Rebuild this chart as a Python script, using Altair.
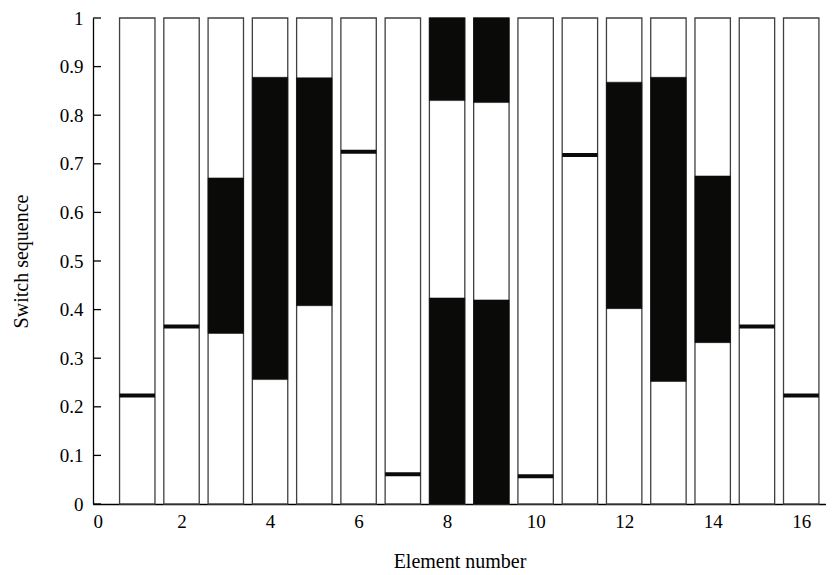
import altair as alt
import pandas as pd

# ---- data ----
elements = list(range(1, 17))

block_element = [3, 4, 5, 8, 8, 9, 9, 12, 13, 14]
block_low = [0.351, 0.256, 0.408, 0.0, 0.830, 0.0, 0.826, 0.402, 0.252, 0.332]
block_high = [0.671, 0.878, 0.877, 0.424, 1.0, 0.420, 1.0, 0.868, 0.878, 0.675]

line_element = [1, 2, 6, 7, 10, 11, 15, 16]
line_value = [0.223, 0.365, 0.725, 0.061, 0.057, 0.718, 0.365, 0.223]

x_ticks = [0, 2, 4, 6, 8, 10, 12, 14, 16]
y_ticks = [0, 0.1, 0.2, 0.3, 0.4, 0.5, 0.6, 0.7, 0.8, 0.9, 1]

FONT = "Liberation Serif"
HALF = 0.4

bars_df = pd.DataFrame({"element": elements, "lo": [0.0] * len(elements), "hi": [1.0] * len(elements)})
blocks_df = pd.DataFrame({"element": block_element, "lo": block_low, "hi": block_high})
lines_df = pd.DataFrame({"element": line_element, "v": line_value})
yt_df = pd.DataFrame({"t": y_ticks})

xscale = alt.Scale(domain=[0, 16.56], nice=False)
yscale = alt.Scale(domain=[0, 1], nice=False)

xaxis = alt.Axis(values=x_ticks, format="d", title="Element number", ticks=False,
                 domainColor="#000000", domainWidth=1.3, labelPadding=8, titlePadding=20,
                 grid=False)
yaxis = alt.Axis(values=y_ticks, format="~g", title="Switch sequence", ticks=False,
                 domainColor="#000000", domainWidth=1.3, labelPadding=10, titlePadding=28,
                 grid=False)

bars = alt.Chart(bars_df).transform_calculate(
    x0=f"datum.element - {HALF}", x1=f"datum.element + {HALF}"
).mark_rect(fill="#ffffff", stroke="#404040", strokeWidth=1.3).encode(
    x=alt.X("x0:Q", scale=xscale, axis=xaxis),
    x2="x1:Q",
    y=alt.Y("lo:Q", scale=yscale, axis=yaxis),
    y2="hi:Q",
)

blocks = alt.Chart(blocks_df).transform_calculate(
    x0=f"datum.element - {HALF}", x1=f"datum.element + {HALF}"
).mark_rect(fill="#0a0a08", stroke="#0a0a08", strokeWidth=0.5).encode(
    x=alt.X("x0:Q", scale=xscale), x2="x1:Q",
    y=alt.Y("lo:Q", scale=yscale), y2="hi:Q",
)

lines = alt.Chart(lines_df).transform_calculate(
    x0=f"datum.element - {HALF}", x1=f"datum.element + {HALF}"
).mark_rule(color="#0a0a08", strokeWidth=4).encode(
    x=alt.X("x0:Q", scale=xscale), x2="x1:Q",
    y=alt.Y("v:Q", scale=yscale),
)

yticks = alt.Chart(yt_df).mark_rule(color="#000000", strokeWidth=1.3).encode(
    x=alt.value(0), x2=alt.value(8),
    y=alt.Y("t:Q", scale=yscale),
)

chart = alt.layer(bars, blocks, lines, yticks).properties(
    width=733, height=486,
    autosize=alt.AutoSizeParams(type="none"),
    padding={"left": 85, "top": 10, "right": 0, "bottom": 68},
).configure_view(stroke=None).configure_axis(
    labelFont=FONT, titleFont=FONT, labelFontSize=19, titleFontSize=20,
    labelColor="#000000", titleColor="#000000", titleFontWeight="normal",
)

chart.save("out.html", embed_options={"renderer": "svg", "actions": False})
